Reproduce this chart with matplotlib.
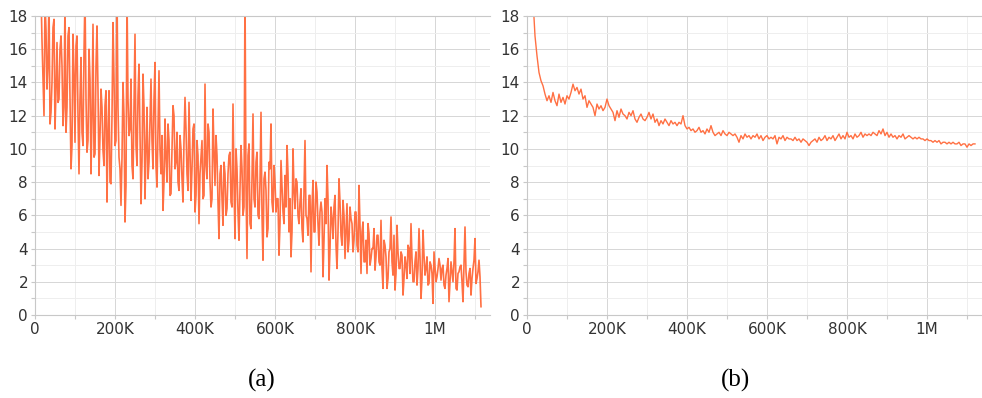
import numpy as np
import matplotlib
matplotlib.use("Agg")
import matplotlib.pyplot as plt
from matplotlib.ticker import MultipleLocator, FuncFormatter

# run (a): values at 15K, 20K, ... and the in-between points at 17.5K, 22.5K, ...
loss_a_even = [
    19.5, 14.2, 18.8, 13.6, 19.2, 12.2, 17.3, 11.2, 16.4, 13.0,
    16.8, 11.4, 19.0, 12.5, 17.3, 8.8, 16.9, 10.4, 16.8, 8.5,
    15.5, 10.2, 19.3, 9.8, 16.0, 8.5, 17.5, 9.7, 17.4, 8.4,
    13.6, 9.9, 12.6, 6.8, 13.5, 7.9, 17.6, 10.2, 19.5, 9.5,
    6.6, 14.0, 5.6, 19.2, 10.8, 14.2, 8.2, 16.9, 9.0, 15.1,
    6.7, 14.5, 7.0, 12.5, 9.2, 14.2, 8.8, 15.2, 7.7, 14.7,
    8.5, 6.3, 11.8, 8.0, 10.5, 7.3, 12.6, 8.8, 11.0, 7.5,
    10.0, 6.8, 13.1, 8.5, 12.8, 6.9, 11.2, 6.2, 10.5, 5.5,
    9.5, 7.0, 13.9, 8.2, 11.0, 6.5, 12.4, 7.8, 9.6, 4.6,
    9.0, 5.4, 8.5, 6.4, 9.6, 6.8, 12.7, 4.6, 8.8, 4.5,
    10.2, 6.0, 19.5, 3.4, 10.3, 5.2, 12.1, 6.5, 9.8, 5.8,
    12.2, 3.3, 8.6, 4.7, 9.2, 11.5, 6.2, 8.0, 7.0, 3.6,
    9.3, 6.2, 8.4, 10.2, 5.0, 3.5, 10.0, 6.4, 8.0, 5.5,
    7.6, 4.4, 10.5, 5.8, 7.2, 2.6, 8.1, 5.0, 7.4, 4.2,
    6.8, 2.3, 7.0, 9.0, 2.1, 6.5, 4.6, 7.2, 2.8, 8.2,
    4.8, 6.9, 3.4, 6.7, 4.5, 5.8, 3.8, 6.2, 4.2, 7.8,
    2.5, 5.6, 3.2, 2.5, 4.9, 3.4, 4.0, 2.7, 4.8, 3.2,
    5.7, 1.6, 4.2, 1.6, 3.8, 5.9, 2.4, 1.5, 5.4, 2.8,
    3.8, 1.2, 3.5, 2.2, 4.0, 5.5, 2.0, 3.2, 1.8, 5.2,
    1.0, 5.1, 2.4, 3.5, 1.9, 3.0, 0.7, 2.9, 2.3, 3.4,
    2.1, 3.0, 1.6, 2.8, 0.8, 3.2, 2.0, 5.2, 1.5, 2.6,
    3.0, 0.8, 5.3, 1.8, 2.5, 1.2, 2.8, 4.6, 2.2, 3.3, 0.5,
]
loss_a_odd = [
    16.5, 12.0, 17.2, 15.0, 11.5, 14.0, 17.8, 13.5, 12.8, 16.0,
    15.0, 12.5, 11.0, 16.8, 13.2, 10.2, 14.5, 16.2, 12.0, 13.0,
    11.0, 15.8, 13.0, 10.5, 14.2, 12.0, 9.5, 15.0, 13.5, 10.8,
    12.5, 9.0, 13.5, 11.0, 8.0, 12.0, 14.2, 10.5, 12.5, 8.8,
    9.5, 12.0, 7.8, 13.0, 11.2, 9.0, 12.5, 10.2, 13.2, 11.0,
    9.2, 12.5, 10.0, 8.2, 11.8, 10.5, 13.0, 9.0, 11.2, 10.0,
    10.8, 8.0, 9.5, 11.5, 7.2, 10.0, 12.0, 9.2, 8.0, 10.8,
    8.2, 10.5, 11.2, 7.5, 9.8, 8.8, 11.5, 7.2, 9.6, 8.5,
    10.5, 7.2, 9.0, 11.5, 8.0, 7.0, 9.8, 10.8, 6.8, 8.5,
    7.0, 9.2, 6.0, 8.5, 9.8, 6.5, 8.0, 10.0, 6.2, 7.6,
    8.8, 6.5, 7.8, 9.6, 5.5, 8.2, 7.0, 9.2, 6.0, 8.0,
    6.0, 8.2, 7.5, 5.2, 8.8, 6.8, 9.0, 6.2, 7.0, 5.5,
    7.8, 5.5, 6.5, 8.5, 7.0, 5.0, 7.5, 8.2, 6.0, 6.8,
    5.2, 7.5, 6.0, 4.8, 7.2, 6.5, 5.0, 8.0, 5.5, 6.2,
    6.2, 4.5, 5.5, 7.0, 4.0, 5.8, 6.5, 4.2, 5.0, 6.8,
    4.2, 6.0, 5.0, 3.8, 6.5, 5.5, 4.5, 6.2, 3.8, 5.4,
    5.0, 3.2, 4.5, 5.5, 3.0, 4.0, 5.2, 3.5, 4.8, 3.0,
    2.8, 4.5, 3.5, 2.2, 4.0, 3.2, 4.8, 2.5, 3.8, 2.8,
    3.6, 2.2, 3.0, 4.2, 2.5, 3.4, 2.0, 3.8, 2.8, 3.5,
    2.2, 3.6, 2.8, 1.8, 3.2, 2.5, 3.8, 2.0, 2.8, 3.0,
    2.8, 1.8, 2.4, 3.4, 2.0, 2.6, 3.2, 1.6, 2.5, 2.9,
    2.0, 3.0, 2.6, 1.7, 2.8, 2.2, 3.3, 1.9, 2.6, 2.3,
]

# run (b): one value every 5K steps from 10K
loss_b = [
    21.0, 19.0, 16.8, 15.6, 14.6, 14.1, 13.8, 13.3, 12.9, 13.2,
    12.8, 13.4, 12.9, 12.6, 13.3, 12.8, 13.1, 12.7, 13.2, 13.0,
    13.4, 13.9, 13.5, 13.7, 13.3, 13.6, 13.0, 13.2, 12.5, 12.9,
    12.7, 12.5, 12.0, 12.7, 12.4, 12.6, 12.3, 12.5, 13.0, 12.6,
    12.4, 12.2, 11.7, 12.3, 11.9, 12.4, 12.1, 12.0, 11.8, 12.2,
    12.0, 12.3, 11.8, 11.6, 11.9, 12.1, 11.8, 11.7, 11.9, 12.2,
    11.8, 12.1, 11.6, 11.8, 11.4, 11.7, 11.5, 11.8, 11.6, 11.4,
    11.7, 11.5, 11.6, 11.4, 11.6, 11.5, 12.0, 11.4, 11.2, 11.3,
    11.1, 11.2, 11.0, 11.1, 11.3, 11.0, 11.1, 10.9, 11.2, 11.0,
    11.4, 11.0, 10.8, 10.9, 11.0, 10.8, 11.1, 10.9, 10.8, 11.0,
    10.9, 10.8, 10.9, 10.7, 10.4, 10.8, 10.6, 10.9, 10.7, 10.8,
    10.6, 10.8, 10.7, 10.9, 10.6, 10.8, 10.5, 10.7, 10.8, 10.6,
    10.7, 10.6, 10.8, 10.3, 10.7, 10.6, 10.8, 10.5, 10.7, 10.6,
    10.6, 10.5, 10.7, 10.5, 10.6, 10.4, 10.6, 10.5, 10.4, 10.2,
    10.4, 10.5, 10.6, 10.4, 10.7, 10.5, 10.6, 10.8, 10.5, 10.7,
    10.6, 10.8, 10.5, 10.7, 10.9, 10.6, 10.8, 10.6, 11.0, 10.7,
    10.8, 10.6, 10.9, 10.7, 10.8, 11.0, 10.7, 10.9, 10.8, 10.9,
    10.8, 11.0, 10.9, 10.8, 11.1, 10.9, 11.2, 10.8, 11.0, 10.7,
    10.9, 10.7, 10.8, 10.6, 10.8, 10.7, 10.9, 10.6, 10.7, 10.8,
    10.7, 10.6, 10.7, 10.6, 10.7, 10.6, 10.6, 10.5, 10.6, 10.5,
    10.5, 10.4, 10.5, 10.4, 10.5, 10.3, 10.4, 10.4, 10.3, 10.4,
    10.3, 10.4, 10.3, 10.3, 10.4, 10.2, 10.3, 10.3, 10.1, 10.3,
    10.2, 10.3, 10.3,
]

# interleave the two halves of run (a)
n_odd = len(loss_a_odd)
loss_a = np.empty(len(loss_a_even) + n_odd)
loss_a[0::2] = loss_a_even
loss_a[1::2] = loss_a_odd
steps_a = np.arange(len(loss_a)) * 2500 + 15000
steps_b = np.arange(len(loss_b)) * 5000 + 10000

line_color = "#ff7043"


def step_fmt(v, pos):
    if v == 0:
        return "0"
    if v >= 1e6:
        return "%gM" % (v / 1e6)
    return "%dK" % (v / 1e3)


fig = plt.figure(figsize=(9.82, 3.98), dpi=100)
ax_a = fig.add_axes([35 / 982, 83 / 398, 455 / 982, 299 / 398])
ax_b = fig.add_axes([527 / 982, 83 / 398, 455 / 982, 299 / 398])

for ax, x, y, lw in [(ax_a, steps_a, loss_a, 1.2), (ax_b, steps_b, loss_b, 1.0)]:
    ax.plot(x, y, color=line_color, linewidth=lw)
    ax.set_xlim(0, 1137500)
    ax.set_ylim(0, 18)
    ax.xaxis.set_major_locator(MultipleLocator(200000))
    ax.xaxis.set_minor_locator(MultipleLocator(100000))
    ax.yaxis.set_major_locator(MultipleLocator(2))
    ax.yaxis.set_minor_locator(MultipleLocator(1))
    ax.xaxis.set_major_formatter(FuncFormatter(step_fmt))
    ax.grid(which="major", color="#d6d6d6", linewidth=0.7)
    ax.grid(which="minor", color="#eeeeee", linewidth=0.7)
    ax.set_axisbelow(True)
    ax.spines["right"].set_visible(False)
    for s in ["left", "bottom", "top"]:
        ax.spines[s].set_color("#c8c8c8")
        ax.spines[s].set_linewidth(0.8)
    ax.tick_params(which="both", length=3, color="#c8c8c8", width=0.8,
                   labelsize=11, labelcolor="#333333", pad=2)

fig.text(262 / 982, 1 - 380 / 398, "(a)", ha="center", va="center",
         fontsize=18, family="Liberation Serif")
fig.text(736 / 982, 1 - 380 / 398, "(b)", ha="center", va="center",
         fontsize=18, family="Liberation Serif")

fig.savefig("out.png", dpi=100)
